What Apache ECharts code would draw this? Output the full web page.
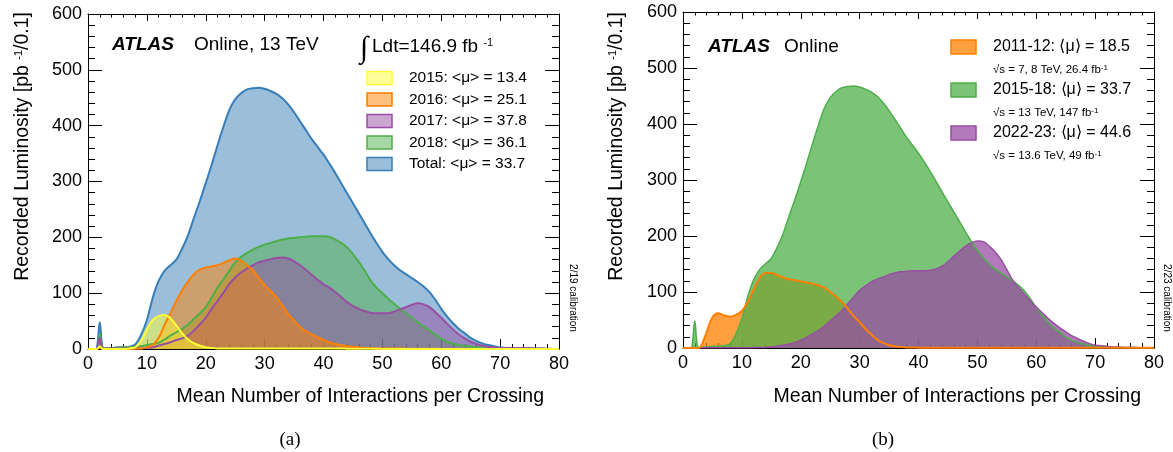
<!DOCTYPE html>
<html>
<head>
<meta charset="utf-8">
<title>ATLAS pile-up</title>
<script src="https://cdn.jsdelivr.net/npm/echarts@6.0.0/dist/echarts.min.js"></script>
<style>
html, body { margin: 0; padding: 0; background: #fff; }
#main { width: 1173px; height: 452px; }
</style>
</head>
<body>
<div id="main"></div>
<script type="text/javascript">
// mean number of interactions (x positions of the histogram samples)
var mu = [0, 1, 1.5, 2, 2.5,
  3, 4, 5, 6, 7, 8, 9,
  10, 11, 12, 13, 14, 15, 16, 17, 18, 19,
  20, 21, 22, 23, 24, 25, 26, 27, 28, 29,
  30, 31, 32, 33, 34, 35, 36, 37, 38, 39,
  40, 41, 42, 43, 44, 45, 46, 47, 48, 49,
  50, 51, 52, 53, 54, 55, 56, 57, 58, 59,
  60, 61, 62, 63, 64, 65, 66, 67, 68, 69,
  70, 71, 72, 73, 74, 75, 76, 77, 78, 79, 80];

// 2015-2018 total (also the 2015-18 curve of panel b)
var total = [0, 0, 2, 48, 2,
  1, 2, 3, 3, 4, 8, 25,
  52, 92, 122, 140, 150, 160, 180, 204, 235, 265,
  297, 330, 365, 398, 428, 447, 458, 465, 467, 468,
  466, 462, 457, 449, 438, 424, 408, 392, 376, 362,
  348, 332, 315, 297, 279, 261, 243, 225, 207, 190,
  174, 161, 150, 141, 134, 127, 120, 112, 102, 88,
  72, 58, 46, 36, 28, 20, 14, 10, 7, 5,
  3, 2, 2, 1, 1, 1, 1, 1, 0, 0, 0];

var y2015 = [0, 0, 0, 5, 0,
  0, 0, 0, 0, 1, 3, 14,
  35, 52, 59, 61, 55, 42, 28, 17, 10, 6,
  3, 2, 1, 1, 1, 1, 1, 1, 1, 1,
  1, 1, 1, 1, 1, 1, 1, 1, 1, 1,
  1, 1, 1, 1, 0.5, 0.5, 0.5, 0.5, 0.5, 0.5,
  0, 0, 0, 0, 0, 0, 0, 0, 0, 0,
  0, 0, 0, 0, 0, 0, 0, 0, 0, 0,
  0, 0, 0, 0, 0, 0, 0, 0, 0, 0, 0];

var y2016 = [0, 0, 0, 3, 0,
  0, 0, 0, 0, 0, 1, 1,
  3, 7, 20, 43, 64, 86, 105, 121, 134, 142,
  146, 148, 150, 154, 159, 162, 158, 150, 141, 128,
  115, 104, 93, 78, 63, 51, 40, 32, 26, 21,
  16, 12, 9, 7, 5, 4, 3, 2, 2, 1,
  1, 1, 1, 1, 0.5, 0.5, 0.5, 0.5, 0.5, 0.5,
  0, 0, 0, 0, 0, 0, 0, 0, 0, 0,
  0, 0, 0, 0, 0, 0, 0, 0, 0, 0, 0];

var y2017 = [0, 0, 0, 20, 0,
  1, 1, 1, 1, 1, 1, 1,
  2, 3, 6, 9, 12, 16, 19, 24, 33, 44,
  56, 72, 86, 101, 116, 128, 137, 144, 150, 155,
  158, 161, 163, 164, 162, 157, 150, 142, 133, 124,
  116, 110, 102, 93, 84, 77, 72, 68, 65, 64,
  64, 64, 67, 71, 75, 79, 82, 80, 75, 66,
  56, 45, 35, 26, 19, 13, 9, 6, 4, 3,
  2, 2, 2, 2, 2, 2, 1, 1, 0.5, 0, 0];

var y2018 = [0, 0, 0, 27, 0,
  2, 2, 2, 3, 3, 4, 5,
  7, 9, 11, 17, 24, 30, 36, 44, 54, 64,
  75, 92, 110, 125, 140, 155, 165, 172, 178, 183,
  187, 190, 193, 196, 198, 199, 200, 201, 202, 202,
  202, 201, 196, 190, 182, 170, 156, 140, 123, 110,
  100, 90, 81, 72, 64, 56, 48, 40, 33, 26,
  18, 13, 10, 7, 6, 4, 3, 2, 1, 1,
  0.5, 0.5, 0, 0, 0, 0, 0, 0, 0, 0, 0];

var y2011_12 = [0, 0, 0, 0, 0,
  2, 28, 55, 62, 58, 56, 59,
  66, 82, 105, 125, 134, 134, 130, 126, 123, 121,
  119, 117, 115, 112, 108, 100, 92, 82, 70, 57,
  46, 34, 24, 15, 9, 5, 3, 2, 1, 1,
  0.5, 0.5, 0.5, 0.5, 0.5, 0.5, 0.5, 0.5, 0.5, 0.5,
  0.5, 0.5, 0.5, 0.5, 0.5, 0.5, 0.5, 0.5, 0.5, 0.5,
  0.5, 0.5, 0.5, 0.5, 0.5, 0.5, 0.5, 0.5, 0.5, 0.5,
  0.5, 0.5, 0.5, 0.5, 0.5, 0.5, 0.5, 0.5, 0.5, 0.5, 0.5];

var y2022_23 = [0, 0, 0, 0, 0,
  0.5, 0.5, 0.5, 0.5, 0.5, 0.5, 0.5,
  0.5, 0.5, 0.5, 1, 1, 2, 3, 5, 7, 10,
  14, 19, 25, 31, 39, 48, 57, 67, 79, 91,
  103, 111, 118, 123, 127, 131, 134, 136, 137, 138,
  138, 138, 139, 141, 146, 154, 164, 173, 182, 188,
  191, 190, 182, 172, 158, 140, 121, 108, 96, 84,
  73, 63, 53, 44, 36, 29, 22, 17, 12, 8,
  5, 4, 3, 2, 2, 1, 1, 0.5, 0.5, 0, 0];

var legendA = ['2015: <\u03bc> = 13.4', '2016: <\u03bc> = 25.1', '2017: <\u03bc> = 37.8',
  '2018: <\u03bc> = 36.1', 'Total: <\u03bc> = 33.7'];
var legendB = ['2011-12: \u27e8\u03bc\u27e9 = 18.5', '2015-18: \u27e8\u03bc\u27e9 = 33.7',
  '2022-23: \u27e8\u03bc\u27e9 = 44.6'];
var legendBsub = ['\u221as = 7, 8 TeV, 26.4 fb{s|-1}', '\u221as = 13 TeV, 147 fb{s|-1}',
  '\u221as = 13.6 TeV, 49 fb{s|-1}'];

var YELLOW = '#ffff33', ORANGE = '#ff7f00', PURPLE = '#984ea3', GREEN = '#4daf4a', BLUE = '#377eb8';
var FONT = '"Liberation Sans", Arial, Helvetica, sans-serif';

var chart = echarts.init(document.getElementById('main'));

function xAx(grid, pos) {
  var bottom = pos === 'bottom';
  return {
    type: 'value', gridIndex: grid, position: pos, min: 0, max: 80, interval: 10,
    axisLine: { show: true, onZero: false, lineStyle: { color: '#000', width: 1 } },
    axisTick: { show: true, inside: true, length: bottom ? 10 : 7, lineStyle: { color: '#000' } },
    minorTick: { show: true, splitNumber: 5, length: bottom ? 5 : 3.5, lineStyle: { color: '#000' } },
    splitLine: { show: false },
    axisLabel: { show: bottom, color: '#000', fontSize: 18, fontFamily: FONT, margin: 6 }
  };
}
function yAx(grid, pos) {
  var left = pos === 'left';
  return {
    type: 'value', gridIndex: grid, position: pos, min: 0, max: 600, interval: 100,
    axisLine: { show: true, onZero: false, lineStyle: { color: '#000', width: 1 } },
    axisTick: { show: true, inside: true, length: 14, lineStyle: { color: '#000' } },
    minorTick: { show: true, splitNumber: 5, length: 7, lineStyle: { color: '#000' } },
    splitLine: { show: false },
    axisLabel: { show: left, color: '#000', fontSize: 18, fontFamily: FONT, margin: 6 }
  };
}

function pts(vals) {
  return mu.map(function (m, i) { return [m, vals[i]]; });
}
// filled histogram; w = 0 draws only the fill
function area(name, vals, color, alpha, ax, w) {
  return {
    name: name, type: 'line', xAxisIndex: ax, yAxisIndex: ax,
    data: pts(vals), smooth: 0.35, symbol: 'none', silent: true,
    lineStyle: { color: color, width: w, opacity: w ? 1 : 0 },
    itemStyle: { color: color },
    areaStyle: { color: color, opacity: alpha }
  };
}
// outline only, drawn above the fills
function outline(name, vals, color, ax, w) {
  return {
    name: name + ' line', type: 'line', xAxisIndex: ax, yAxisIndex: ax,
    data: pts(vals), smooth: 0.35, symbol: 'none', silent: true, z: 3,
    lineStyle: { color: color, width: w }, itemStyle: { color: color }
  };
}

var SUP = { s: { fontSize: 11, verticalAlign: 'top', fontFamily: FONT, fill: '#000' } };
function txt(x, y, text, size, extra) {
  var st = { text: text, fontSize: size, fontFamily: FONT, fill: '#000', align: 'left', verticalAlign: 'middle', rich: SUP };
  var el = { type: 'text', x: x, y: y, z: 100, style: st };
  if (extra) {
    for (var k in extra.style || {}) st[k] = extra.style[k];
    if (extra.rotation !== undefined) el.rotation = extra.rotation;
  }
  return el;
}
function box(x, y, color, alpha, h) {
  return {
    type: 'rect', z: 100, shape: { x: x, y: y - h / 2, width: 25, height: h },
    style: { fill: echarts.color.modifyAlpha(color, alpha), stroke: color, lineWidth: 1.5 }
  };
}

var graphics = [];
// panel (a)
graphics.push(txt(112, 45, 'ATLAS', 19, { style: { fontWeight: 'bold', fontStyle: 'italic' } }));
graphics.push(txt(194, 45, 'Online, 13 TeV', 19));
graphics.push(txt(360, 49, '\u222b', 30, { style: { fontFamily: '"Liberation Serif", serif' } }));
graphics.push(txt(372, 47, 'Ldt=146.9 fb {s|-1}', 19));
var colsA = [YELLOW, ORANGE, PURPLE, GREEN, BLUE];
legendA.forEach(function (lab, i) {
  var yc = 78 + i * 21.5;
  graphics.push(box(367, yc, colsA[i], 0.5, 13));
  graphics.push(txt(409, yc, lab, 15.5));
});
graphics.push(txt(23, 12, 'Recorded Luminosity [pb {s|-1}/0.1]', 19.5, { rotation: Math.PI / 2, style: { align: 'right' } }));
graphics.push(txt(544, 397, 'Mean Number of Interactions per Crossing', 19.5, { style: { align: 'right' } }));
graphics.push(txt(573, 298, '2/19 calibration', 10, { rotation: -Math.PI / 2, style: { align: 'center' } }));
graphics.push(txt(290, 440, '(a)', 19, { style: { align: 'center', fontFamily: '"Liberation Serif", serif' } }));

// panel (b)
graphics.push(txt(708, 47, 'ATLAS', 19, { style: { fontWeight: 'bold', fontStyle: 'italic' } }));
graphics.push(txt(784, 47, 'Online', 19));
var colsB = [ORANGE, GREEN, PURPLE];
legendB.forEach(function (lab, i) {
  var yc = 47 + i * 43;
  graphics.push(box(951, yc, colsB[i], 0.75, 14));
  graphics.push(txt(993, yc, lab, 16));
  graphics.push(txt(993, yc + 23, legendBsub[i], 11.5, { style: { rich: { s: { fontSize: 8, verticalAlign: 'top', fontFamily: FONT, fill: '#000' } } } }));
});
graphics.push(txt(617, 12, 'Recorded Luminosity [pb {s|-1}/0.1]', 19.5, { rotation: Math.PI / 2, style: { align: 'right' } }));
graphics.push(txt(1141, 397, 'Mean Number of Interactions per Crossing', 19.5, { style: { align: 'right' } }));
graphics.push(txt(1167, 298, '2/23 calibration', 10, { rotation: -Math.PI / 2, style: { align: 'center' } }));
graphics.push(txt(883, 440, '(b)', 19, { style: { align: 'center', fontFamily: '"Liberation Serif", serif' } }));

var option = {
  animation: false,
  backgroundColor: '#fff',
  grid: [
    { left: 88, top: 14, width: 471, height: 335, containLabel: false, outerBoundsMode: 'none' },
    { left: 683, top: 12, width: 471, height: 336, containLabel: false, outerBoundsMode: 'none' }
  ],
  xAxis: [xAx(0, 'bottom'), xAx(0, 'top'), xAx(1, 'bottom'), xAx(1, 'top')],
  yAxis: [yAx(0, 'left'), yAx(0, 'right'), yAx(1, 'left'), yAx(1, 'right')],
  series: [
    area('Total', total, BLUE, 0.5, 0, 2),
    area('2018', y2018, GREEN, 0.5, 0, 2),
    area('2017', y2017, PURPLE, 0.5, 0, 2),
    area('2016', y2016, ORANGE, 0.5, 0, 2),
    area('2015', y2015, YELLOW, 0.5, 0, 2),
    area('2011-12', y2011_12, ORANGE, 0.75, 2, 0),
    area('2015-18', total, GREEN, 0.75, 2, 0),
    area('2022-23', y2022_23, PURPLE, 0.75, 2, 0),
    outline('2015-18', total, GREEN, 2, 1.5),
    outline('2022-23', y2022_23, PURPLE, 2, 1.5),
    outline('2011-12', y2011_12, ORANGE, 2, 2)
  ],
  graphic: graphics
};
chart.setOption(option);
</script>
</body>
</html>
